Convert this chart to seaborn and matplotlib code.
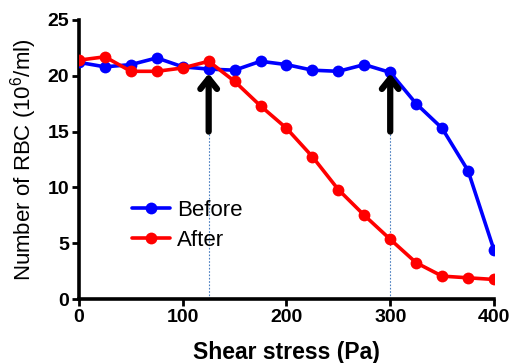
import numpy as np
import matplotlib.pyplot as plt
import pandas as pd
import seaborn as sns

# data
shear = [0, 25, 50, 75, 100, 125, 150, 175, 200, 225, 250, 275, 300, 325, 350, 375, 400]
before = [21.2, 20.8, 21.0, 21.6, 20.8, 20.6, 20.5, 21.3, 21.0, 20.5, 20.4, 21.0, 20.3, 17.5, 15.3, 11.5, 4.4]
after = [21.4, 21.7, 20.4, 20.4, 20.7, 21.3, 19.5, 17.3, 15.3, 12.75, 9.8, 7.5, 5.35, 3.25, 2.05, 1.9, 1.75]
arrow_x = [125, 300]

df = pd.DataFrame({
    "Shear": shear * 2,
    "RBC": before + after,
    "Group": ["Before"] * len(shear) + ["After"] * len(shear),
})

sns.set_style("ticks")
plt.rcParams['font.family'] = ['Liberation Sans', 'DejaVu Sans']
plt.rcParams['mathtext.fontset'] = 'custom'
plt.rcParams['mathtext.rm'] = 'Liberation Sans'
plt.rcParams['text.color'] = 'black'
plt.rcParams['axes.labelcolor'] = 'black'
plt.rcParams['xtick.color'] = 'black'
plt.rcParams['ytick.color'] = 'black'

fig = plt.figure(figsize=(5.14, 3.63), dpi=100)
ax = fig.add_axes([0.1537, 0.1763, 0.8073, 0.7687])

sns.lineplot(data=df, x="Shear", y="RBC", hue="Group",
             palette={"Before": "#0000ff", "After": "#ff0000"},
             marker="o", markersize=8.5, markeredgewidth=0, linewidth=2.6,
             ax=ax, zorder=3)

# thin dotted guides + thick arrows
ax.vlines(arrow_x, 0, 15, colors="#4a7fc0", linestyles=(0, (1.5, 1.5)), linewidth=0.8, zorder=1)
for x in arrow_x:
    ax.annotate("", xy=(x, 20.2), xytext=(x, 15.0),
                arrowprops=dict(arrowstyle="->, head_width=0.6, head_length=0.75",
                                color="black", lw=4.5, shrinkA=0, shrinkB=0),
                zorder=4)

ax.set_xlim(0, 400)
ax.set_ylim(0, 25)
ax.set_xticks([0, 100, 200, 300, 400])
ax.set_yticks([0, 5, 10, 15, 20, 25])
ax.set_xlabel("Shear stress (Pa)", fontsize=16.5, fontweight="bold", labelpad=11)
ax.set_ylabel("Number of RBC (10$^6$/ml)", fontsize=16, labelpad=6)
for lab in ax.get_xticklabels() + ax.get_yticklabels():
    lab.set_fontweight("bold")
ax.tick_params(axis="both", labelsize=14, width=2, length=5, pad=2)

for s in ["top", "right"]:
    ax.spines[s].set_visible(False)
for s in ["left", "bottom"]:
    ax.spines[s].set_linewidth(2.6)
    ax.spines[s].set_color("black")

ax.legend(title=None, frameon=False, loc="upper left", bbox_to_anchor=(0.10, 0.395),
          fontsize=16, handlelength=1.75, handletextpad=0.3, labelspacing=0.4,
          borderpad=0)

fig.savefig("out.png", dpi=100)
